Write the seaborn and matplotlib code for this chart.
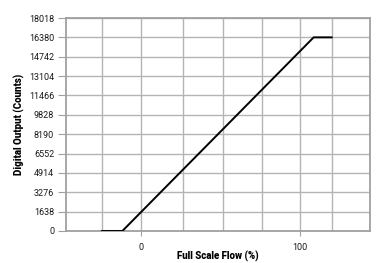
import matplotlib
matplotlib.use("Agg")
import matplotlib.pyplot as plt
import seaborn as sns
import pandas as pd

# Data
flow_pct = [-25, -12, 108.5, 120]
counts = [0, 0, 16380, 16380]
y_ticks = [0, 1638, 3276, 4914, 6552, 8190, 9828, 11466, 13104, 14742, 16380, 18018]
x_ticks = [0, 100]
x_grid = [-25, 0, 26, 51.5, 76, 100, 120]

sns.set_theme(style="white")
plt.rcParams['font.family'] = ['Roboto', 'DejaVu Sans']

df = pd.DataFrame({"flow": flow_pct, "counts": counts})

fig = plt.figure(figsize=(3.86, 2.63), dpi=100)
ax = fig.add_axes([66/386, 1-231/263, (370-66)/386, (231-18)/263])

for xg in x_grid:
    ax.axvline(xg, color="#b4b4b4", lw=1.0, zorder=0)
for yg in y_ticks:
    ax.axhline(yg, color="#b4b4b4", lw=1.0, zorder=0)

sns.lineplot(data=df, x="flow", y="counts", ax=ax, color="black", lw=1.4, zorder=3)

ax.set_xlim(-47.5, 144)
ax.set_ylim(0, 18018)
ax.set_xticks(x_ticks)
ax.set_yticks(y_ticks)
ax.set_xticklabels([str(v) for v in x_ticks])
ax.set_yticklabels([str(v) for v in y_ticks])

for s in ax.spines.values():
    s.set_color("#a0a0a0")
    s.set_linewidth(1.3)

ax.tick_params(axis="y", length=6, width=0.8, color="#a0a0a0", pad=2.5,
               labelsize=6.5, labelcolor="#1a1a1a", left=True)
ax.tick_params(axis="x", length=3.5, width=0.8, color="#a0a0a0", pad=5,
               labelsize=6.5, labelcolor="#1a1a1a", bottom=True)

ax.set_xlabel("Full Scale Flow (%)", fontsize=7, fontweight="heavy", color="#000000", labelpad=-1)
ax.set_ylabel("Digital Output (Counts)", fontsize=7, fontweight="heavy", color="#000000", labelpad=3)

fig.savefig("out.png", dpi=100)
